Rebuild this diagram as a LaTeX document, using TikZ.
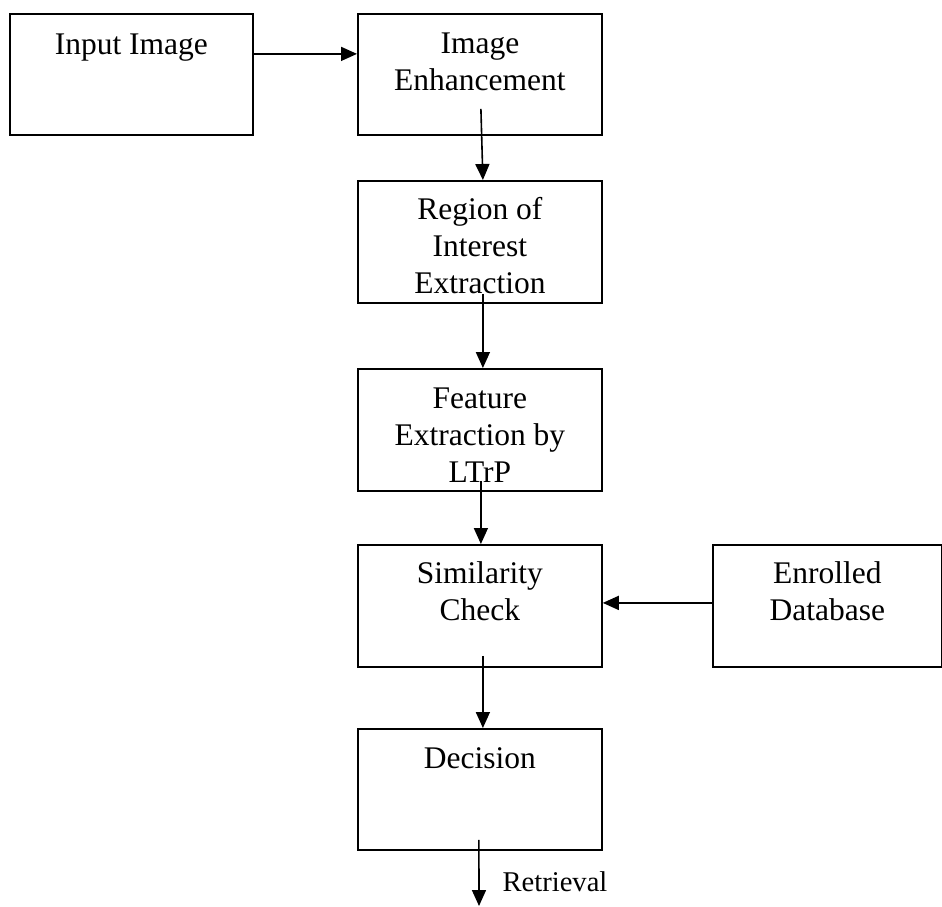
\documentclass[tikz,border=0pt]{standalone}
\usepackage{fontspec}
\setmainfont{Liberation Serif}
\usetikzlibrary{arrows.meta}
\newcommand\boxtext[4]{\parbox[c][#2pt][t]{#1pt}{\centering\vspace*{#3pt}\strut #4}}
\begin{document}
\begin{tikzpicture}[x=1pt,y=-1pt,
  box/.style={draw, line width=1.8pt, inner sep=0pt, anchor=north west},
  arr/.style={line width=1.6pt, -{Triangle[length=16pt,width=14pt]}},
  every node/.style={font=\fontsize{31.5}{37}\selectfont}]
\useasboundingbox (0,0) rectangle (942,906);
\node[box] (in)  at (9,13)    {\boxtext{243}{121}{15}{Input Image}};
\node[box] (ie)  at (357,13)  {\boxtext{244}{121}{14}{Image\\Enhancement}};
\node[box] (roi) at (357,180) {\boxtext{244}{122}{13}{Region of\\Interest\\Extraction}};
\node[box] (fe)  at (357,368) {\boxtext{244}{122}{14}{Feature\\Extraction by\\LTrP}};
\node[box] (sc)  at (357,544) {\boxtext{244}{122}{13}{Similarity\\Check}};
\node[box] (ed)  at (712,544) {\boxtext{229}{122}{13}{Enrolled\\Database}};
\node[box] (dec) at (357,728) {\boxtext{244}{121}{14}{Decision}};
\coordinate (ret) at (479,906);
\draw[arr] ([yshift=20.5pt]in.east) -- ([yshift=20.5pt]ie.west);
\draw[arr] ([xshift=1pt,yshift=27pt]ie.south) -- ([xshift=3pt]roi.north);
\draw[arr] ([xshift=3pt,yshift=10pt]roi.south) -- ([xshift=3pt]fe.north);
\draw[arr] ([xshift=1pt,yshift=11pt]fe.south) -- ([xshift=1pt]sc.north);
\draw[arr] ([yshift=3pt]ed.west) -- ([yshift=3pt]sc.east);
\draw[arr] ([xshift=3pt,yshift=12pt]sc.south) -- ([xshift=3pt]dec.north);
\draw[arr] ([xshift=-1pt,yshift=11pt]dec.south) -- (ret);
\node[font=\fontsize{28.6}{33}\selectfont, anchor=base, inner sep=0pt] (retl) at (555,891) {Retrieval};
\end{tikzpicture}
\end{document}
